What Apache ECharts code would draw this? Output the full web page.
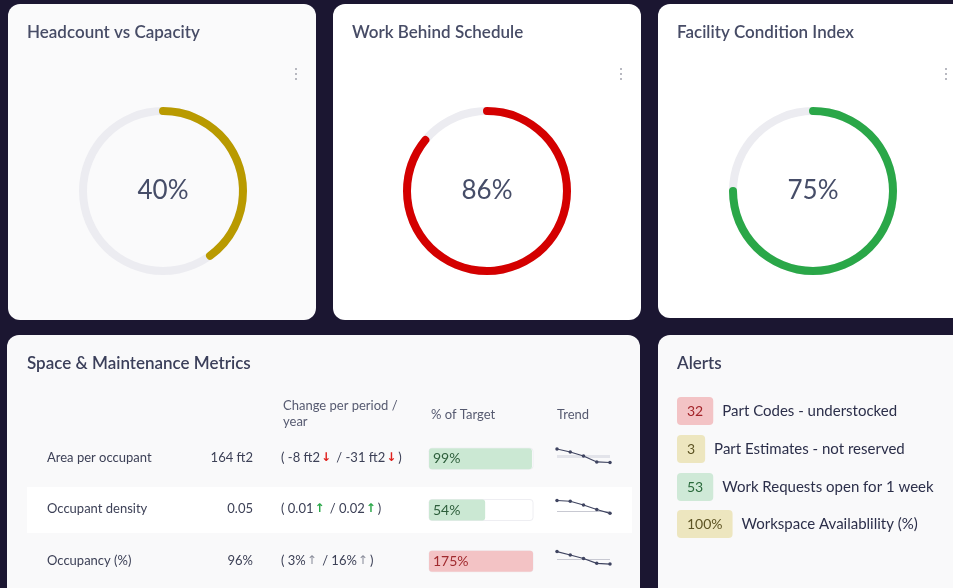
<!DOCTYPE html>
<html>
<head>
<meta charset="utf-8">
<script src="https://cdn.jsdelivr.net/npm/echarts@6/dist/echarts.min.js"></script>
<style>
  html, body { margin: 0; padding: 0; background: #1b1631; }
  #main { width: 953px; height: 588px; }
</style>
</head>
<body>
<div id="main"></div>
<script>
// gauges
const gaugeTitles = ['Headcount vs Capacity', 'Work Behind Schedule', 'Facility Condition Index'];
const gaugeValues = [40, 86, 75];
const gaugeColors = ['#b99a00', '#d40000', '#2aa748'];

// metrics table
const metricNames = ['Area per occupant', 'Occupant density', 'Occupancy (%)'];
const metricValues = ['164 ft2', '0.05', '96%'];
const changePeriod = ['-8 ft2', '0.01', '3%'];
const changeYear = ['-31 ft2', '0.02', '16%'];
const changeDir = ['down', 'up', 'up'];
const changeTone = ['bad', 'good', 'neutral'];
const targetPct = [99, 54, 175];
const trendSeries = [
    [8.9, 7.2, 5.0, 1.7, 1.4],
    [8.6, 8.2, 6.1, 3.6, 1.5],
    [9.1, 7.2, 5.3, 2.6, 2.2]
];
const trendTarget = [[3.9, 5.6], [2.9, 2.9], [5.0, 5.0]];

// alerts
const alertCounts = ['32', '3', '53', '100%'];
const alertLabels = ['Part Codes - understocked', 'Part Estimates - not reserved', 'Work Requests open for 1 week', 'Workspace Availablility (%)'];
const alertLevels = ['red', 'yellow', 'green', 'yellow'];

const FONT = 'Lato, "Open Sans", sans-serif';
const chart = echarts.init(document.getElementById('main'));

const toneColor = { bad: '#e0201c', good: '#2aa748', neutral: '#8a8d9a' };
const badge = {
    red: { bg: '#f3c3c5', fg: '#a3242a' },
    yellow: { bg: '#ede6bf', fg: '#5d5424' },
    green: { bg: '#cfe9d7', fg: '#2b6b3c' }
};

// card boxes
const cards = [
    { x: 8, y: 4, w: 308, h: 316, fill: '#fafafb' },
    { x: 333, y: 4, w: 308, h: 316, fill: '#ffffff' },
    { x: 658, y: 4, w: 310, h: 314, fill: '#ffffff' },
    { x: 7, y: 335, w: 633, h: 270, fill: '#f9f9fa' },
    { x: 658, y: 335, w: 310, h: 270, fill: '#f9f9fa' }
];

const graphics = [];
cards.forEach(c => graphics.push({
    type: 'rect', z: 0,
    shape: { x: c.x, y: c.y, width: c.w, height: c.h, r: 12 },
    style: { fill: c.fill }
}));

const gaugeCx = [163, 487, 813];
const titleX = [27, 352, 677];
const dotsX = [296, 621, 946];
gaugeTitles.forEach((t, i) => {
    graphics.push({
        type: 'text', z: 10, x: titleX[i], y: 33,
        style: { text: t, font: '600 17px ' + FONT, fill: '#474c66', verticalAlign: 'middle' }
    });
    [-5, 0, 5].forEach(d => graphics.push({
        type: 'circle', z: 10, shape: { cx: dotsX[i], cy: 74 + d, r: 1 },
        style: { fill: '#a0a2ad' }
    }));
});

// table card
graphics.push({
    type: 'text', z: 10, x: 27, y: 364,
    style: { text: 'Space & Maintenance Metrics', font: '600 17px ' + FONT, fill: '#3b3f5a', verticalAlign: 'middle' }
});
graphics.push({
    type: 'rect', z: 1,
    shape: { x: 27, y: 487, width: 605, height: 46 },
    style: { fill: '#ffffff' }
});
const headStyle = { font: '13px ' + FONT, fill: '#565a70', verticalAlign: 'middle' };
graphics.push({ type: 'text', z: 10, x: 283, y: 406, style: Object.assign({ text: 'Change per period /' }, headStyle) });
graphics.push({ type: 'text', z: 10, x: 283, y: 422, style: Object.assign({ text: 'year' }, headStyle) });
graphics.push({ type: 'text', z: 10, x: 431, y: 415, style: Object.assign({ text: '% of Target' }, headStyle) });
graphics.push({ type: 'text', z: 10, x: 557, y: 415, style: Object.assign({ text: 'Trend' }, headStyle) });

const rowY = [458, 509, 561];
metricNames.forEach((n, i) => {
    graphics.push({
        type: 'text', z: 10, x: 47, y: rowY[i],
        style: { text: n, font: '13px ' + FONT, fill: '#3d4157', verticalAlign: 'middle' }
    });
    graphics.push({
        type: 'text', z: 10, x: 253, y: rowY[i],
        style: { text: metricValues[i], font: '13px ' + FONT, fill: '#3d4157', align: 'right', verticalAlign: 'middle' }
    });
    const arrow = changeDir[i] === 'down' ? '↓' : '↑';
    const tone = changeTone[i];
    graphics.push({
        type: 'text', z: 10, x: 281, y: rowY[i],
        style: {
            text: '( ' + changePeriod[i] + '{a|' + arrow + '} / ' + changeYear[i] + '{a|' + arrow + '})',
            font: '13px ' + FONT, fill: '#3d4157', verticalAlign: 'middle',
            rich: { a: { fill: toneColor[tone], font: (tone === 'neutral' ? '' : 'bold ') + '12px "DejaVu Sans", sans-serif', padding: [0, 2, 0, 1] } }
        }
    });
});

// alerts card
graphics.push({
    type: 'text', z: 10, x: 677, y: 364,
    style: { text: 'Alerts', font: '600 17px ' + FONT, fill: '#3b3f5a', verticalAlign: 'middle' }
});
const alertY = [411, 449, 487, 524];
alertCounts.forEach((c, i) => {
    const b = badge[alertLevels[i]];
    graphics.push({
        type: 'text', z: 10, x: 677, y: alertY[i],
        style: {
            text: '{b|' + c + '}{t|' + alertLabels[i] + '}',
            verticalAlign: 'middle',
            rich: {
                b: { font: '14px ' + FONT, fill: b.fg, backgroundColor: b.bg, padding: [7, 10, 7, 10], borderRadius: 4, lineHeight: 15 },
                t: { font: '15px ' + FONT, fill: '#2c2f4a', padding: [0, 0, 0, 9] }
            }
        }
    });
});

// series
const series = [];
gaugeValues.forEach((v, i) => series.push({
    type: 'gauge', center: [gaugeCx[i], 191], radius: 84,
    startAngle: 90, endAngle: -270, min: 0, max: 100, z: 5,
    pointer: { show: false },
    progress: { show: true, roundCap: true, width: 8, itemStyle: { color: gaugeColors[i] } },
    axisLine: { lineStyle: { width: 8, color: [[1, '#ececf1']] } },
    axisTick: { show: false }, splitLine: { show: false }, axisLabel: { show: false },
    title: { show: false },
    detail: { offsetCenter: [0, 0], formatter: '{value}%', fontSize: 26, color: '#464d68', fontFamily: FONT, fontWeight: 'normal' },
    data: [{ value: v }]
}));

const grids = [{ left: 429, top: 433, width: 104, height: 154 }];
const xAxes = [{ gridIndex: 0, type: 'value', min: 0, max: 100, show: false }];
const yAxes = [{ gridIndex: 0, type: 'category', inverse: true, data: metricNames, show: false }];

series.push({
    type: 'bar', xAxisIndex: 0, yAxisIndex: 0, z: 5, barWidth: 21,
    showBackground: true,
    backgroundStyle: { color: '#ffffff', borderColor: '#eeeef2', borderWidth: 1, borderRadius: 3 },
    data: targetPct.map(p => ({
        value: Math.min(p, 100), actual: p,
        itemStyle: { color: p > 100 ? '#f3c3c5' : '#cbe8d3', borderRadius: 3 },
        label: { color: p > 100 ? '#a02a2e' : '#2d5e3b' }
    })),
    label: {
        show: true, position: 'insideLeft', distance: 4, fontSize: 14, fontFamily: FONT,
        formatter: p => p.data.actual + '%'
    }
});

const sparkTop = [447, 498, 550];
trendSeries.forEach((pts, i) => {
    const gi = i + 1;
    grids.push({ left: 557, top: sparkTop[i], width: 53, height: 18 });
    xAxes.push({ gridIndex: gi, type: 'category', boundaryGap: false, data: pts.map((_, k) => k + 1), show: false });
    yAxes.push({ gridIndex: gi, type: 'value', min: 0, max: 10, show: false });
    const tgt = trendTarget[i];
    const s = {
        type: 'line', xAxisIndex: gi, yAxisIndex: gi, z: 5, data: pts,
        symbol: 'circle', symbolSize: 3.5,
        lineStyle: { color: '#3f4460', width: 1.2 },
        itemStyle: { color: '#3f4460' }
    };
    if (tgt[0] !== tgt[1]) {
        s.markArea = { silent: true, itemStyle: { color: '#e3e4ea' }, data: [[{ yAxis: tgt[0] }, { yAxis: tgt[1] }]] };
    } else {
        s.markLine = { silent: true, symbol: 'none', label: { show: false }, lineStyle: { color: '#c8c9d2', type: 'solid', width: 1 }, data: [{ yAxis: tgt[0] }] };
    }
    series.push(s);
});

chart.setOption({
    animation: false,
    backgroundColor: '#1b1631',
    textStyle: { fontFamily: FONT },
    graphic: { elements: graphics },
    grid: grids,
    xAxis: xAxes,
    yAxis: yAxes,
    series: series
});
</script>
</body>
</html>
